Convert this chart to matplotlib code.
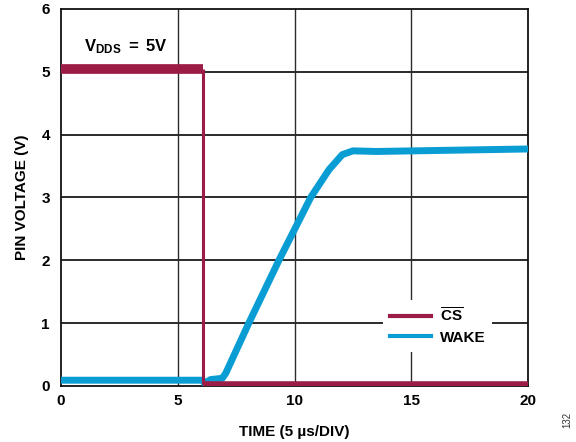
import matplotlib
matplotlib.use("Agg")
import matplotlib.pyplot as plt

plt.rcParams['font.family'] = ['Liberation Sans', 'DejaVu Sans']
plt.rcParams['mathtext.fontset'] = 'custom'
plt.rcParams['mathtext.rm'] = 'Liberation Sans:bold'
plt.rcParams['mathtext.bf'] = 'Liberation Sans:bold'
plt.rcParams['mathtext.it'] = 'Liberation Sans:bold'

# ---- data ----
cs_time = [0.0, 6.08, 6.08, 20.0]
cs_volt = [5.05, 5.05, 0.03, 0.03]

wake_time = [0.0, 6.05, 6.15, 6.4, 6.9, 7.05, 8.04, 9.33, 10.69, 11.47, 12.04, 12.5, 13.5, 20.0]
wake_volt = [0.09, 0.09, 0.04, 0.10, 0.12, 0.20, 1.00, 2.00, 3.00, 3.44, 3.68, 3.74, 3.73, 3.77]

x_ticks = [0, 5, 10, 15, 20]
y_ticks = [0, 1, 2, 3, 4, 5, 6]
series_labels = [r'$\overline{\mathbf{CS}}$', 'WAKE']

CS_COLOR = '#9c1c45'
WAKE_COLOR = '#0a9dd3'

fig = plt.figure(figsize=(5.76, 4.42), dpi=100)
ax = fig.add_axes([0.106, 0.127, 0.811, 0.853])

ax.set_xlim(0, 20)
ax.set_ylim(0, 6)
ax.set_xticks(x_ticks)
ax.set_yticks(y_ticks)
ax.set_xticklabels([str(t) for t in x_ticks], fontsize=11, fontweight='bold')
ax.set_yticklabels([str(t) for t in y_ticks], fontsize=11, fontweight='bold')
ax.tick_params(axis='y', length=0, pad=8)
ax.tick_params(axis='x', length=0, pad=6)

# grid
for yv in y_ticks[1:-1]:
    ax.axhline(yv, color='#2b2b2b', lw=1.4, zorder=1)
for xv in x_ticks[1:-1]:
    ax.axvline(xv, color='#2b2b2b', lw=1.0, zorder=1)
for s in ax.spines.values():
    s.set_linewidth(1.3)
    s.set_color('#111111')

# WAKE trace
ax.plot(wake_time, wake_volt, color=WAKE_COLOR, lw=5, solid_capstyle='butt',
        solid_joinstyle='round', zorder=3)
# CS trace (high plateau thick noisy band, edge thin, low level medium)
ax.plot(cs_time[0:2], cs_volt[0:2], color=CS_COLOR, lw=7, solid_capstyle='butt', zorder=4)
ax.plot(cs_time[1:3], cs_volt[1:3], color=CS_COLOR, lw=2.2, solid_capstyle='butt', zorder=4)
ax.plot(cs_time[2:4], cs_volt[2:4], color=CS_COLOR, lw=4, solid_capstyle='butt', zorder=4)

# legend
from matplotlib.lines import Line2D
handles = [Line2D([], [], color=CS_COLOR, lw=3),
           Line2D([], [], color=WAKE_COLOR, lw=3)]
leg = ax.legend(handles, series_labels, loc='center left', bbox_to_anchor=(0.673, 0.16),
                frameon=True, framealpha=1, edgecolor='none', facecolor='white',
                fancybox=False, handlelength=2.7, handletextpad=0.55, labelspacing=0.4,
                borderpad=0.45, prop={'weight': 'bold', 'size': 11})
leg.set_zorder(5)

ax.text(1.0, 5.33, r'$\mathbf{V_{DDS}\ =\ 5V}$', fontsize=12, ha='left', va='baseline')

ax.set_xlabel('TIME (5 µs/DIV)', fontsize=11, fontweight='bold', labelpad=12)
ax.set_ylabel('PIN VOLTAGE (V)', fontsize=11, fontweight='bold', labelpad=9)

fig.text(0.985, 0.05, '132', rotation=90, fontsize=7, color='#333333', ha='center', va='center')

fig.savefig('out.png', dpi=100)
